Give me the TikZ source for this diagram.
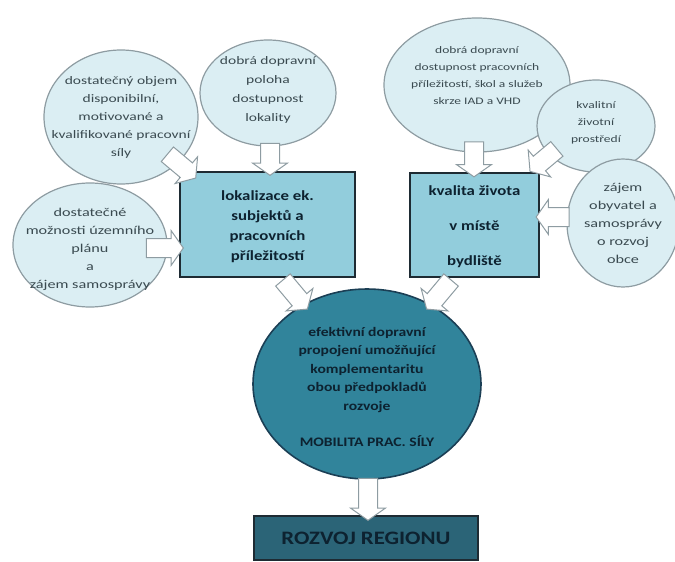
\documentclass[tikz,border=0pt]{standalone}
\usepackage{fontspec}
\setmainfont{Carlito}
\newfontfamily\ellfont[FakeStretch=1.35]{Carlito}
\newfontfamily\boxfont[FakeStretch=1.2]{Carlito}
\usetikzlibrary{shapes.arrows,shapes.geometric}
\definecolor{ellfill}{HTML}{DBEEF3}
\definecolor{ellline}{HTML}{8E9CA2}
\definecolor{boxfill}{HTML}{92CDDC}
\definecolor{boxline}{HTML}{1E2B33}
\definecolor{circfill}{HTML}{31849B}
\definecolor{circline}{HTML}{1B3F55}
\definecolor{botfill}{HTML}{2B6477}
\definecolor{txt}{HTML}{3A4A50}
\definecolor{darktxt}{HTML}{0D2230}
\begin{document}
\begin{tikzpicture}[x=1pt,y=-1pt,
  ell/.style={ellipse, draw=ellline, line width=1.2pt, fill=ellfill, inner sep=0pt},
  elltext/.style={align=center, inner sep=0pt, text=txt, font=\ellfont\fontsize{12}{18}\selectfont},
  boxnode/.style={rectangle, draw=boxline, line width=1.6pt, fill=boxfill, inner sep=0pt},
  boxtext/.style={align=center, inner sep=0pt, text=darktxt, font=\boxfont\bfseries\fontsize{14}{20}\selectfont},
  barrow/.style={single arrow, draw=ellline, fill=white, line width=1pt,
    inner xsep=0pt, inner ysep=9pt, single arrow head extend=8pt,
    single arrow tip angle=110, single arrow head indent=0pt}
]
\useasboundingbox (0,0) rectangle (675,562);

% ellipses
\node[ell, minimum width=154pt, minimum height=134pt] (e1) at (121,117) {};
\node[ell, minimum width=136pt, minimum height=106pt] (e2) at (268,93) {};
\node[ell, minimum width=154pt, minimum height=124pt] (e3) at (90,245) {};
\node[ell, minimum width=186pt, minimum height=134pt] (e4) at (477,85) {};
\node[ell, minimum width=118pt, minimum height=92pt] (e5) at (596,126) {};
\node[ell, minimum width=112pt, minimum height=128pt] (e6) at (623,223) {};

\node[elltext, font=\ellfont\fontsize{11.5}{18}\selectfont] (t1) at (e1.center) {dostatečný objem\\disponibilní,\\motivované a\\kvalifikované pracovní\\síly};
\node[elltext, font=\ellfont\fontsize{11.5}{19}\selectfont] (t2) at ([yshift=3pt]e2.center) {dobrá dopravní\\poloha\\dostupnost\\lokality};
\node[elltext] (t3) at ([yshift=-4pt]e3.center) {dostatečné\\možnosti územního\\plánu\\a\\zájem samosprávy};
\node[elltext, font=\ellfont\fontsize{10}{17}\selectfont] (t4) at ([yshift=9pt]e4.center) {dobrá dopravní\\dostupnost pracovních\\příležitostí, škol a služeb\\skrze IAD a VHD};
\node[elltext, font=\ellfont\fontsize{10}{17}\selectfont] (t5) at ([yshift=3pt]e5.center) {kvalitní\\životní\\prostředí};
\node[elltext, font=\ellfont\fontsize{12}{18}\selectfont] (t6) at (e6.center) {zájem\\obyvatel a\\samosprávy\\o rozvoj\\obce};

% boxes
\node[boxnode, minimum width=175pt, minimum height=105pt] (b1) at (267.5,224.5) {};
\node[boxtext] (b1t) at ([yshift=-2pt]b1.center) {lokalizace ek.\\subjektů a\\pracovních\\příležitostí};
\node[boxnode, minimum width=129pt, minimum height=104pt] (b2) at (474.5,225) {};
\node[boxtext, font=\boxfont\bfseries\fontsize{14}{35}\selectfont] (b2t) at ([yshift=-2pt]b2.center) {kvalita života\\v místě\\bydliště};

% central circle
\node[ellipse, draw=circline, line width=1.6pt, fill=circfill, minimum width=228pt, minimum height=190pt, inner sep=0pt] (c) at (367,384) {};
\node[boxtext, font=\boxfont\bfseries\fontsize{13}{18.5}\selectfont] (ct) at ([yshift=-3pt]c.center) {efektivní dopravní\\propojení umožňující\\komplementaritu\\obou předpokladů\\rozvoje\\[18pt]MOBILITA PRAC. SÍLY};

% bottom box
\node[rectangle, draw=boxline, line width=2.5pt, fill=botfill, minimum width=224pt, minimum height=44pt, inner sep=0pt] (r) at (366,538) {};
\node[text=darktxt, font=\boxfont\bfseries\fontsize{19}{22}\selectfont, inner sep=0pt] (rt) at (r.center) {ROZVOJ REGIONU};

% block arrows
\node[barrow, minimum height=32pt, rotate=-90] (a1) at (270,156) {};
\node[barrow, minimum height=37pt, rotate=-40] (a2) at (179,164) {};
\node[barrow, minimum height=37pt, rotate=0] (a3) at (161.5,248) {};
\node[barrow, minimum height=35pt, rotate=-90] (a4) at (474,156) {};
\node[barrow, minimum height=35pt, rotate=-140] (a5) at (546,158) {};
\node[barrow, minimum height=33pt, rotate=180] (a6) at (556,217) {};
\node[barrow, minimum height=38pt, rotate=-50] (a7) at (293,292) {};
\node[barrow, minimum height=38pt, rotate=-130] (a8) at (441,292) {};
\node[barrow, minimum height=42pt, rotate=-90] (a9) at (368,496) {};
\end{tikzpicture}
\end{document}
